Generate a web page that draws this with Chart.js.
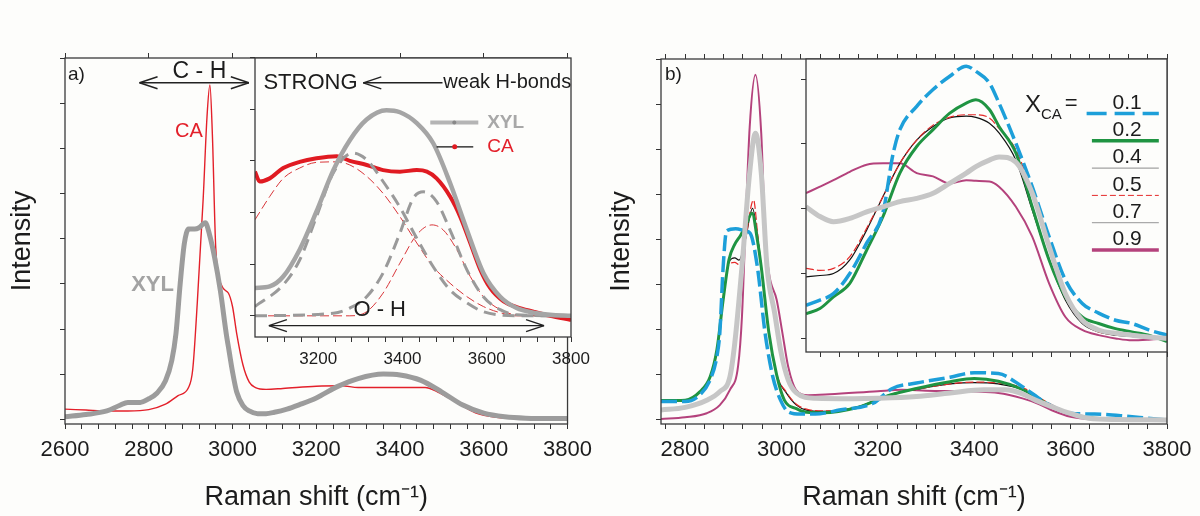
<!DOCTYPE html>
<html>
<head>
<meta charset="utf-8">
<script src="https://cdn.jsdelivr.net/npm/chart.js@4.4.1/dist/chart.umd.min.js"></script>
<style>
  html, body { margin: 0; padding: 0; background: #fdfdfb; }
  #wrap { position: relative; width: 1200px; height: 516px; overflow: hidden; }
  canvas { position: absolute; }
</style>
</head>
<body>
<div id="wrap">
  <canvas id="mainA" width="600" height="516" style="left:0px;top:0px"></canvas>
  <canvas id="insetA" width="405" height="385" style="left:195px;top:0px"></canvas>
  <canvas id="mainB" width="600" height="516" style="left:600px;top:0px"></canvas>
  <canvas id="insetB" width="460" height="380" style="left:740px;top:0px"></canvas>
</div>
<script>
// ---------- a) pure XYL and CA ----------
const xylShift = [2600, 2650, 2700, 2730, 2750, 2780, 2800, 2820, 2840, 2855, 2865, 2875, 2885, 2895, 2910, 2920, 2935, 2945, 2957, 2971, 2985, 2992, 3000, 3010, 3025, 3040, 3060, 3080, 3100, 3130, 3160, 3200, 3250, 3300, 3360, 3400, 3450, 3500, 3550, 3600, 3650, 3700, 3800];
const xylInt   = [0.05, 0.1, 0.18, 0.3, 0.37, 0.37, 0.45, 0.58, 0.85, 1.3, 1.9, 3.0, 3.9, 4.22, 4.22, 4.25, 4.36, 4.1, 3.6, 2.85, 1.9, 1.5, 1.05, 0.6, 0.3, 0.18, 0.12, 0.12, 0.15, 0.22, 0.32, 0.47, 0.72, 0.9, 1.0, 0.98, 0.86, 0.6, 0.31, 0.13, 0.05, 0.02, 0.01];
const caShift  = [2600, 2650, 2700, 2750, 2800, 2840, 2870, 2895, 2905, 2916, 2930, 2939, 2946, 2952, 2960, 2975, 2990, 3000, 3010, 3025, 3040, 3055, 3080, 3120, 3200, 3260, 3300, 3400, 3460, 3490, 3530, 3580, 3630, 3700, 3800];
const caInt    = [0.22, 0.2, 0.18, 0.18, 0.21, 0.33, 0.52, 0.7, 1.1, 2.6, 4.9, 6.7, 7.42, 6.3, 3.8, 2.95, 2.8, 2.5, 1.9, 1.2, 0.82, 0.7, 0.66, 0.68, 0.73, 0.74, 0.7, 0.7, 0.7, 0.6, 0.4, 0.14, 0.04, 0.01, 0.0];

// inset of a): O-H band with fitted components
const xylInShift = [3050, 3085, 3117, 3156, 3196, 3236, 3275, 3315, 3362, 3394, 3434, 3473, 3513, 3553, 3592, 3632, 3671, 3711, 3750, 3800];
const xylInInt   = [0.54, 0.57, 0.76, 1.28, 2.02, 2.82, 3.4, 3.8, 3.98, 3.94, 3.73, 3.34, 2.57, 1.66, 0.83, 0.37, 0.15, 0.06, 0.02, 0.0];
const caInShift  = [3050, 3061, 3085, 3117, 3156, 3196, 3244, 3275, 3315, 3354, 3394, 3434, 3458, 3481, 3513, 3537, 3561, 3585, 3608, 3640, 3671, 3711, 3750, 3800];
const caInInt    = [2.79, 2.6, 2.66, 2.86, 2.98, 3.05, 3.09, 3.0, 2.92, 2.82, 2.79, 2.82, 2.79, 2.66, 2.31, 1.92, 1.41, 0.89, 0.54, 0.28, 0.17, 0.08, 0.0, -0.08];
const xylFit1Shift = [3050, 3117, 3156, 3196, 3236, 3283, 3315, 3354, 3394, 3434, 3473, 3513, 3553, 3592, 3671, 3800];
const xylFit1Int   = [0.18, 0.6, 1.08, 1.92, 2.77, 3.15, 3.02, 2.6, 2.1, 1.5, 0.95, 0.5, 0.25, 0.08, 0.0, 0.0];
const xylFit2Shift = [3050, 3236, 3275, 3315, 3354, 3394, 3426, 3450, 3481, 3513, 3553, 3592, 3632, 3671, 3800];
const xylFit2Int   = [0.0, 0.05, 0.15, 0.37, 0.83, 1.6, 2.28, 2.4, 2.21, 1.66, 0.89, 0.37, 0.12, 0.02, 0.0];
const caFit1Shift  = [3050, 3085, 3117, 3156, 3196, 3244, 3275, 3315, 3354, 3394, 3434, 3473, 3513, 3553, 3592, 3632, 3671, 3800];
const caFit1Int    = [1.86, 2.31, 2.66, 2.86, 2.97, 2.98, 2.92, 2.7, 2.37, 1.92, 1.41, 0.95, 0.63, 0.37, 0.18, 0.06, 0.0, 0.0];
const caFit2Shift  = [3050, 3275, 3315, 3354, 3394, 3434, 3470, 3497, 3529, 3561, 3592, 3632, 3671, 3800];
const caFit2Int    = [0.0, 0.0, 0.08, 0.44, 1.02, 1.57, 1.76, 1.66, 1.28, 0.76, 0.37, 0.12, 0.02, 0.0];

// ---------- b) mixtures, X_CA ----------
const fractions = ['0.1', '0.2', '0.4', '0.5', '0.7', '0.9'];
const x01Shift = [2750, 2800, 2831, 2852, 2866, 2872, 2879, 2886, 2905, 2925, 2935, 2950, 2966, 2982, 2998, 3014, 3040, 3080, 3120, 3190, 3230, 3280, 3350, 3400, 3450, 3500, 3550, 3600, 3650, 3710, 3760, 3800];
const x01Int   = [0.41, 0.41, 0.56, 0.89, 1.41, 1.93, 3.4, 4.2, 4.25, 4.2, 4.15, 3.4, 1.93, 0.96, 0.44, 0.18, 0.13, 0.14, 0.22, 0.37, 0.7, 0.82, 0.95, 1.05, 1.03, 0.74, 0.37, 0.15, 0.13, 0.09, 0.04, 0.0];
const x02Shift = [2750, 2800, 2831, 2852, 2866, 2879, 2891, 2903, 2915, 2925, 2939, 2950, 2958, 2974, 2990, 3006, 3031, 3052, 3086, 3155, 3224, 3280, 3350, 3400, 3450, 3500, 3550, 3600, 3650, 3800];
const x02Int   = [0.43, 0.44, 0.63, 0.96, 1.56, 2.67, 3.56, 3.9, 4.1, 4.3, 4.59, 4.0, 3.4, 1.93, 1.0, 0.44, 0.25, 0.17, 0.16, 0.27, 0.55, 0.7, 0.85, 0.92, 0.86, 0.68, 0.37, 0.13, 0.04, 0.0];
const x04Shift = [2750, 2800, 2831, 2852, 2866, 2879, 2891, 2903, 2912, 2925, 2940, 2950, 2958, 2974, 2990, 3010, 3031, 3052, 3086, 3155, 3224, 3280, 3350, 3400, 3450, 3500, 3550, 3600, 3650, 3800];
const x04Int   = [0.42, 0.43, 0.63, 0.96, 1.56, 2.67, 3.5, 3.6, 3.55, 4.0, 4.7, 4.1, 3.4, 1.93, 1.0, 0.6, 0.33, 0.22, 0.19, 0.28, 0.56, 0.68, 0.8, 0.83, 0.8, 0.68, 0.37, 0.14, 0.04, 0.0];
const x05Shift = [2750, 2800, 2831, 2852, 2866, 2879, 2891, 2903, 2912, 2925, 2942, 2950, 2958, 2974, 2990, 3010, 3031, 3052, 3086, 3155, 3224, 3280, 3350, 3400, 3450, 3500, 3550, 3600, 3650, 3800];
const x05Int   = [0.43, 0.44, 0.64, 0.97, 1.58, 2.65, 3.45, 3.5, 3.45, 4.0, 4.89, 4.2, 3.4, 1.95, 1.02, 0.62, 0.35, 0.24, 0.2, 0.28, 0.56, 0.68, 0.8, 0.84, 0.82, 0.72, 0.4, 0.15, 0.04, 0.0];
const x07Shift = [2750, 2800, 2845, 2872, 2893, 2903, 2918, 2934, 2946, 2958, 2970, 2986, 2998, 3014, 3031, 3070, 3150, 3200, 3280, 3350, 3420, 3465, 3500, 3527, 3560, 3598, 3637, 3700, 3800];
const x07Int   = [0.22, 0.28, 0.44, 0.63, 0.96, 1.7, 3.4, 5.5, 6.37, 5.5, 3.4, 2.37, 1.56, 0.89, 0.6, 0.48, 0.47, 0.48, 0.52, 0.6, 0.67, 0.67, 0.58, 0.44, 0.3, 0.15, 0.04, 0.01, 0.0];
const x09Shift = [2750, 2800, 2845, 2872, 2893, 2910, 2918, 2926, 2934, 2946, 2958, 2966, 2974, 2990, 3002, 3014, 3030, 3055, 3100, 3200, 3250, 3300, 3400, 3450, 3500, 3530, 3560, 3600, 3650, 3800];
const x09Int   = [0.02, 0.06, 0.15, 0.33, 0.67, 1.2, 2.3, 4.5, 6.5, 7.67, 6.37, 4.15, 3.26, 2.67, 1.93, 1.18, 0.67, 0.55, 0.57, 0.64, 0.67, 0.65, 0.63, 0.6, 0.48, 0.37, 0.22, 0.07, 0.02, 0.0];

// inset of b): O-H band
const x01InShift = [3050, 3079, 3107, 3141, 3176, 3210, 3231, 3245, 3280, 3314, 3348, 3383, 3403, 3431, 3451, 3486, 3520, 3555, 3589, 3624, 3658, 3693, 3727, 3762, 3800];
const x01InInt   = [0.51, 0.59, 0.69, 1.0, 1.47, 1.95, 2.85, 3.22, 3.58, 3.84, 4.04, 4.2, 4.12, 3.94, 3.63, 3.01, 2.34, 1.57, 0.9, 0.54, 0.39, 0.28, 0.23, 0.13, 0.05];
const bInShift = [3050, 3079, 3107, 3141, 3176, 3210, 3245, 3280, 3314, 3348, 3383, 3403, 3431, 3451, 3486, 3520, 3555, 3589, 3624, 3658, 3693, 3727, 3762, 3800];
const x02InInt = [0.38, 0.46, 0.64, 0.85, 1.36, 1.88, 2.55, 2.96, 3.22, 3.47, 3.63, 3.68, 3.53, 3.27, 2.86, 2.03, 1.21, 0.64, 0.33, 0.23, 0.15, 0.1, 0.05, -0.05];
const x04InInt = [0.95, 0.97, 1.0, 1.21, 1.67, 2.19, 2.7, 3.06, 3.27, 3.4, 3.43, 3.41, 3.32, 3.17, 2.75, 1.98, 1.21, 0.59, 0.23, 0.1, 0.05, 0.03, 0.01, 0.0];
const x05InInt = [1.08, 1.05, 1.08, 1.26, 1.7, 2.19, 2.7, 3.06, 3.29, 3.41, 3.45, 3.45, 3.4, 3.24, 2.91, 2.24, 1.42, 0.64, 0.26, 0.1, 0.06, 0.04, 0.02, 0.0];
const x07InInt = [2.03, 1.88, 1.8, 1.85, 1.95, 2.03, 2.11, 2.16, 2.24, 2.39, 2.55, 2.65, 2.75, 2.8, 2.72, 2.24, 1.42, 0.69, 0.28, 0.13, 0.08, 0.05, 0.02, 0.0];
const x09InInt = [2.24, 2.34, 2.44, 2.57, 2.68, 2.7, 2.7, 2.55, 2.5, 2.39, 2.44, 2.43, 2.42, 2.34, 2.03, 1.57, 0.85, 0.33, 0.13, 0.05, 0.0, -0.03, -0.02, 0.0];

// axis ticks
const ticksA = [2600, 2800, 3000, 3200, 3400, 3600, 3800];
const ticksB = [2800, 3000, 3200, 3400, 3600, 3800];
const ticksInset = [3200, 3400, 3600, 3800];
const yTicksMain = [0, 1, 2, 3, 4, 5, 6, 7, 8];
const yTicksInA = [0, 1, 2, 3, 4, 5];
const yTicksInB = [0, 1, 2, 3, 4];
const MINOR = 40;

const FONT = '"Liberation Sans", Arial, sans-serif';
const INK = '#1c1c1c';
const RED = '#e3202a';
const PAPER = '#fdfdfb';

function pts(xs, ys) {
  return xs.map((x, i) => ({ x: x, y: ys[i] }));
}

function line(xs, ys, color, width, dash) {
  return {
    data: pts(xs, ys), borderColor: color, borderWidth: width, borderDash: dash || [],
    pointRadius: 0, fill: false, cubicInterpolationMode: 'monotone', xAxisID: 'x', yAxisID: 'y'
  };
}

function tickList(majors, min, max, minor) {
  if (!minor) return majors.slice();
  const out = [];
  let v = majors[0];
  while (v - MINOR >= min) v -= MINOR;
  for (; v <= max; v += MINOR) out.push(v);
  return out;
}

const tickGrid = { drawOnChartArea: false, drawTicks: true, tickLength: 5, tickColor: '#333', tickWidth: 1 };

function xScale(o) {
  return {
    type: 'linear', position: o.pos, min: o.min, max: o.max,
    afterBuildTicks: s => { s.ticks = tickList(o.majors, o.min, o.max, o.minor).map(v => ({ value: v })); },
    afterFit: s => { s.height = o.h; },
    ticks: {
      display: !!o.size, autoSkip: false, maxRotation: 0, minRotation: 0, padding: o.pad || 0, color: INK,
      font: { family: FONT, size: o.size || 12 },
      callback: v => o.majors.indexOf(v) >= 0 ? String(v) : ''
    },
    grid: tickGrid,
    border: { display: false },
    title: o.title
      ? { display: true, text: o.title, color: INK, font: { family: FONT, size: 27 }, padding: { top: 0, bottom: 2 } }
      : { display: false }
  };
}

function yScale(o) {
  return {
    type: 'linear', position: 'left', min: o.min, max: o.max,
    afterBuildTicks: s => { s.ticks = o.ticks.map(v => ({ value: v })); },
    afterFit: s => { s.width = o.w; },
    ticks: { display: false },
    grid: tickGrid,
    border: { display: false },
    title: o.title
      ? { display: true, text: o.title, color: INK, font: { family: FONT, size: 27 }, padding: { top: o.tpad, bottom: 0 } }
      : { display: false }
  };
}

// drawing helpers for the annotations
function P(c, xv, yv) {
  return [c.scales.x.getPixelForValue(xv), c.scales.y.getPixelForValue(yv)];
}
function txt(ctx, s, x, y, size, color, align, weight) {
  ctx.font = (weight || 'normal') + ' ' + size + 'px ' + FONT;
  ctx.fillStyle = color || INK;
  ctx.textAlign = align || 'left';
  ctx.textBaseline = 'middle';
  ctx.fillText(s, x, y);
}
function seg(ctx, x1, y1, x2, y2, color, width, dash) {
  ctx.save();
  ctx.strokeStyle = color; ctx.lineWidth = width; ctx.setLineDash(dash || []);
  ctx.beginPath(); ctx.moveTo(x1, y1); ctx.lineTo(x2, y2); ctx.stroke();
  ctx.restore();
}
function dot(ctx, x, y, r, color) {
  ctx.fillStyle = color; ctx.beginPath(); ctx.arc(x, y, r, 0, Math.PI * 2); ctx.fill();
}
function arrow(ctx, p1, p2, headLeft, headRight) {
  const y = p1[1], L = 18, S = 6;
  seg(ctx, p1[0], y, p2[0], y, '#222', 1.4);
  if (headLeft) {
    seg(ctx, p1[0], y, p1[0] + L, y - S, '#222', 1.4);
    seg(ctx, p1[0], y, p1[0] + L, y + S, '#222', 1.4);
  }
  if (headRight) {
    seg(ctx, p2[0], y, p2[0] - L, y - S, '#222', 1.4);
    seg(ctx, p2[0], y, p2[0] - L, y + S, '#222', 1.4);
  }
}

const frame = {
  id: 'frame',
  afterDraw(c) {
    const a = c.chartArea, ctx = c.ctx;
    ctx.save();
    ctx.strokeStyle = '#3a3a3a'; ctx.lineWidth = 1.3;
    ctx.strokeRect(a.left, a.top, a.right - a.left, a.bottom - a.top);
    ctx.restore();
  }
};
const paper = {
  id: 'paper',
  beforeDraw(c) {
    const a = c.chartArea;
    c.ctx.fillStyle = PAPER;
    c.ctx.fillRect(a.left, a.top, a.right - a.left, a.bottom - a.top);
  }
};

function makeChart(id, datasets, scales, padding, plugins) {
  return new Chart(document.getElementById(id), {
    type: 'line',
    data: { datasets: datasets },
    options: {
      responsive: false, animation: false, devicePixelRatio: 1, events: [],
      layout: { padding: padding },
      plugins: { legend: { display: false }, tooltip: { enabled: false } },
      elements: { point: { radius: 0 } },
      scales: scales
    },
    plugins: plugins
  });
}

// ---- panel a) main ----
makeChart('mainA',
  [line(xylShift, xylInt, '#9c9c9c', 5), line(caShift, caInt, RED, 1.4)],
  {
    x: xScale({ pos: 'bottom', min: 2600, max: 3800, majors: ticksA, minor: true, h: 92, size: 22, pad: 8, title: 'Raman shift (cm\u207B\u00B9)' }),
    xTop: xScale({ pos: 'top', min: 2600, max: 3800, majors: ticksA, minor: false, h: 58 }),
    y: yScale({ min: -0.11, max: 8.02, ticks: yTicksMain, w: 65, title: 'Intensity', tpad: 6 })
  },
  { top: 0, right: 29, bottom: 0, left: 0 },
  [frame, {
    id: 'notesA',
    afterDraw(c) {
      const ctx = c.ctx, a = c.chartArea;
      txt(ctx, 'a)', a.left + 3, a.top + 17, 19);
      let p = P(c, 2921, 7.71); txt(ctx, 'C - H', p[0], p[1], 23, INK, 'center');
      arrow(ctx, P(c, 2778, 7.47), P(c, 3039, 7.47), true, true);
      p = P(c, 2896, 6.38); txt(ctx, 'CA', p[0], p[1], 20, RED, 'center');
      p = P(c, 2809, 2.98); txt(ctx, 'XYL', p[0], p[1], 22, '#a3a3a3', 'center', 'bold');
    }
  }]);

// ---- panel a) inset ----
makeChart('insetA',
  [
    line(xylInShift, xylInInt, '#a5a5a5', 4.5),
    line(xylFit1Shift, xylFit1Int, '#9a9a9a', 3, [12, 7]),
    line(xylFit2Shift, xylFit2Int, '#9a9a9a', 3, [12, 7]),
    line(caFit1Shift, caFit1Int, '#d9363a', 1, [9, 4]),
    line(caFit2Shift, caFit2Int, '#d9363a', 1, [9, 4]),
    line(caInShift, caInInt, '#e01b22', 4),
    line(caInShift, caInInt, '#111', 1)
  ],
  {
    x: xScale({ pos: 'bottom', min: 3050, max: 3800, majors: ticksInset, minor: true, h: 48, size: 17, pad: 7 }),
    y: yScale({ min: -0.41, max: 4.99, ticks: yTicksInA, w: 60 })
  },
  { top: 58, right: 29, bottom: 0, left: 0 },
  [paper, frame, {
    id: 'notesInA',
    afterDraw(c) {
      const ctx = c.ctx;
      let p = P(c, 3070, 4.51); txt(ctx, 'STRONG', p[0], p[1], 22);
      arrow(ctx, P(c, 3307, 4.51), P(c, 3495, 4.51), true, false);
      p = P(c, 3497, 4.51); txt(ctx, 'weak H-bonds', p[0], p[1], 20);
      let a = P(c, 3466, 3.74), b = P(c, 3580, 3.74);
      seg(ctx, a[0], a[1], b[0], b[1], '#b4b4b4', 4);
      p = P(c, 3523, 3.74); dot(ctx, p[0], p[1], 2, '#888');
      p = P(c, 3601, 3.73); txt(ctx, 'XYL', p[0], p[1], 19, '#a8a8a8', 'left', 'bold');
      a = P(c, 3481, 3.27); b = P(c, 3568, 3.27);
      seg(ctx, a[0], a[1], b[0], b[1], '#111', 1.2);
      p = P(c, 3524, 3.27); dot(ctx, p[0], p[1], 2.5, '#e01b22');
      p = P(c, 3601, 3.27); txt(ctx, 'CA', p[0], p[1], 19, RED);
      p = P(c, 3346, 0.12); txt(ctx, 'O - H', p[0], p[1], 22, INK, 'center');
      arrow(ctx, P(c, 3083, -0.19), P(c, 3736, -0.19), true, true);
    }
  }]);

// ---- panel b) styles (one per fraction) ----
const styleB = [
  { color: '#1d9fd9', width: 3.5, dash: [16, 5] },
  { color: '#1f9442', width: 3, dash: [] },
  { color: '#111111', width: 1.2, dash: [] },
  { color: '#e52a2a', width: 1.2, dash: [8, 3] },
  { color: '#c6c6c6', width: 5, dash: [] },
  { color: '#b4427c', width: 2, dash: [] }
];
const legendB = [
  { color: '#1d9fd9', width: 3.5, dash: [20, 8] },
  { color: '#1f9442', width: 3.5, dash: [] },
  { color: '#8a8a8a', width: 1, dash: [] },
  { color: '#e52a2a', width: 1, dash: [6, 3] },
  { color: '#aaaaaa', width: 1.3, dash: [] },
  { color: '#b4427c', width: 3.5, dash: [] }
];
function lineB(xs, ys, k) {
  return line(xs, ys, styleB[k].color, styleB[k].width, styleB[k].dash);
}

makeChart('mainB',
  [
    lineB(x07Shift, x07Int, 4),
    lineB(x01Shift, x01Int, 0),
    lineB(x02Shift, x02Int, 1),
    lineB(x05Shift, x05Int, 3),
    lineB(x04Shift, x04Int, 2),
    lineB(x09Shift, x09Int, 5)
  ],
  {
    x: xScale({ pos: 'bottom', min: 2750, max: 3800, majors: ticksB, minor: true, h: 92, size: 22, pad: 8, title: 'Raman shift (cm\u207B\u00B9)' }),
    xTop: xScale({ pos: 'top', min: 2750, max: 3800, majors: ticksB, minor: true, h: 59 }),
    y: yScale({ min: -0.09, max: 8.02, ticks: yTicksMain, w: 61, title: 'Intensity', tpad: 5 })
  },
  { top: 0, right: 33, bottom: 0, left: 0 },
  [frame, {
    id: 'notesB',
    afterDraw(c) {
      const a = c.chartArea;
      txt(c.ctx, 'b)', a.left + 4, a.top + 16, 19);
    }
  }]);

makeChart('insetB',
  [
    lineB(bInShift, x07InInt, 4),
    lineB(x01InShift, x01InInt, 0),
    lineB(bInShift, x02InInt, 1),
    lineB(bInShift, x05InInt, 3),
    lineB(bInShift, x04InInt, 2),
    lineB(bInShift, x09InInt, 5)
  ],
  {
    x: xScale({ pos: 'bottom', min: 3050, max: 3800, majors: ticksInset, minor: true, h: 28 }),
    y: yScale({ min: -0.21, max: 4.31, ticks: yTicksInB, w: 66 })
  },
  { top: 59, right: 33, bottom: 0, left: 0 },
  [paper, frame, {
    id: 'notesInB',
    afterDraw(c) {
      const ctx = c.ctx, a = c.chartArea;
      let p = P(c, 3505, 3.59); txt(ctx, 'X', p[0], p[1], 24);
      p = P(c, 3538, 3.45); txt(ctx, 'CA', p[0], p[1], 15);
      p = P(c, 3601, 3.62); txt(ctx, '=', p[0], p[1], 22, INK, 'center');
      const sx = c.scales.x;
      fractions.forEach((f, i) => {
        const y = a.top + 44 + 27.3 * i;
        txt(ctx, f, sx.getPixelForValue(3717), y, 21, INK, 'center');
        const s = legendB[i];
        seg(ctx, sx.getPixelForValue(i === 0 ? 3633 : 3644), y + 10.5, sx.getPixelForValue(3783), y + 10.5, s.color, s.width, s.dash);
      });
    }
  }]);
</script>
</body>
</html>
